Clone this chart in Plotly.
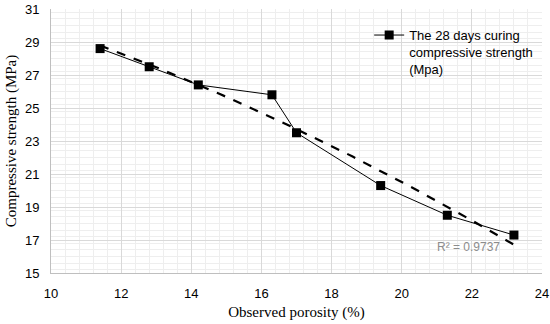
import numpy as np
import plotly.graph_objects as go

porosity = [11.4, 12.8, 14.2, 16.3, 17.0, 19.4, 21.3, 23.2]
strength = [28.6, 27.5, 26.4, 25.8, 23.5, 20.3, 18.5, 17.3]
series_name = "The 28 days curing<br>compressive strength<br>(Mpa)"
r2_label = "R² = 0.9737"
x_ticks = [10, 12, 14, 16, 18, 20, 22, 24]
y_ticks = [15, 17, 19, 21, 23, 25, 27, 29, 31]

# second-order polynomial trendline (as drawn in the source chart)
coef = np.polyfit(porosity, strength, 2)
trend_x = np.linspace(min(porosity), max(porosity), 60)
trend_y = np.polyval(coef, trend_x)

fig = go.Figure()
fig.add_trace(go.Scatter(
    x=trend_x, y=trend_y, mode="lines", showlegend=False,
    line=dict(color="#000000", width=2.2, dash="dash"),
))
fig.add_trace(go.Scatter(
    x=porosity, y=strength, mode="lines+markers", name=series_name,
    line=dict(color="#000000", width=1),
    marker=dict(symbol="square", size=9, color="#000000"),
))
fig.add_annotation(x=21.91, y=16.55, text=r2_label, showarrow=False,
                   font=dict(family="Liberation Sans, Arial", size=12, color="#8c8c8c"))

fig.update_layout(
    width=550, height=324,
    margin=dict(l=51, r=8, t=9, b=51),
    paper_bgcolor="white", plot_bgcolor="white",
    showlegend=True,
    legend=dict(x=0.648, y=0.958, xanchor="left", yanchor="top",
                bgcolor="rgba(0,0,0,0)", valign="top",
                font=dict(family="Liberation Sans, Arial", size=13, color="#000000"),
                itemwidth=30, tracegroupgap=0),
    xaxis=dict(range=[10, 24], tickvals=x_ticks, automargin=False,
               ticklabeloverflow="allow",
               showgrid=True, gridcolor="#d9d9d9", gridwidth=1,
               minor=dict(dtick=0.4, showgrid=True, gridcolor="#eeeeee", gridwidth=1),
               showline=True, linecolor="#bfbfbf", zeroline=False, mirror=False,
               ticks="", ticklabelstandoff=8,
               tickfont=dict(family="Liberation Sans, Arial", size=13, color="#000000"),
               title=dict(text="Observed porosity (%)", standoff=6,
                          font=dict(family="Liberation Serif, Times New Roman", size=15, color="#000000"))),
    yaxis=dict(range=[15, 31], tickvals=y_ticks, automargin=False,
               ticklabeloverflow="allow",
               showgrid=True, gridcolor="#d9d9d9", gridwidth=1,
               minor=dict(dtick=0.4, showgrid=True, gridcolor="#eeeeee", gridwidth=1),
               showline=True, linecolor="#bfbfbf", zeroline=False,
               ticks="", ticklabelstandoff=8,
               tickfont=dict(family="Liberation Sans, Arial", size=13, color="#000000"),
               title=dict(text="Compressive strength (MPa)", standoff=4,
                          font=dict(family="Liberation Serif, Times New Roman", size=15, color="#000000"))),
)
fig.write_html("out.html", config={"displayModeBar": False},
               post_script="document.body.style.margin='0px';document.body.style.overflow='hidden';")
